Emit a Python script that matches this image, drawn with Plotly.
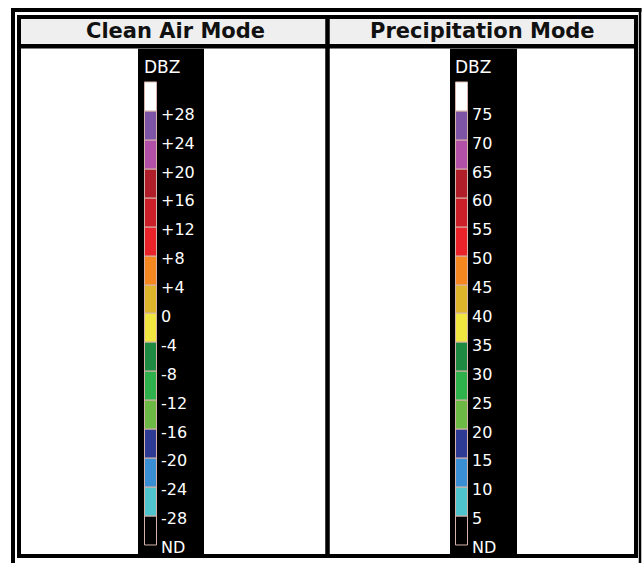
import plotly.graph_objects as go

W, H = 643, 565

# Legend entries, bottom (no data) to top
clean_air_labels = ["ND", "-28", "-24", "-20", "-16", "-12", "-8", "-4", "0",
                    "+4", "+8", "+12", "+16", "+20", "+24", "+28"]
precip_labels = ["ND", "5", "10", "15", "20", "25", "30", "35", "40",
                 "45", "50", "55", "60", "65", "70", "75"]
swatch_colors = ["#000000", "#50c4cc", "#3a8fd4", "#2d3b95", "#6cba45",
                 "#2fb24b", "#1f8a41", "#f1e540", "#ddb42a", "#f4871f",
                 "#ea2229", "#cb2029", "#b01e2a", "#b24fa7", "#7e54a6",
                 "#ffffff"]
swatch_heights = [1] * 16
swatch_bases = list(range(16))
panel_titles = ["Clean Air Mode", "Precipitation Mode"]
unit_label = "DBZ"


def px(x):
    return x / W


def py(y):
    return 1 - y / H


# pixel geometry of each panel's colour column
columns = [
    dict(strip=(138, 204), swatch=(145, 157), title_x=175, dbz_x=142),
    dict(strip=(450, 517), swatch=(456, 468), title_x=482, dbz_x=453),
]
top_px, bottom_px = 83, 547
unit_px = (bottom_px - top_px) / 16
pad = 0.25
shift = 2.5  # labels sit a touch below their boundary
bar_dom = [py(bottom_px + pad * unit_px), py(top_px - pad * unit_px)]
label_dom = [py(bottom_px + pad * unit_px + shift), py(top_px - pad * unit_px + shift)]

fig = go.Figure()
label_sets = [clean_air_labels, precip_labels]
label_font = dict(family="DejaVu Sans", size=16, color="white")

layout_axes = {}
for i, col in enumerate(columns):
    n = "" if i == 0 else str(i + 1)
    fig.add_trace(go.Bar(
        x=["c"] * 16,
        y=swatch_heights,
        base=swatch_bases,
        width=12 / 14,
        marker=dict(color=swatch_colors,
                    line=dict(color="#d6b3aa", width=1)),
        hoverinfo="skip",
        showlegend=False,
        xaxis="x" + n,
        yaxis="y" + n,
    ))
    s0, s1 = col["swatch"]
    layout_axes["xaxis" + n] = dict(
        domain=[px(s0 - 1), px(s1 + 1)], range=[-0.5, 0.5],
        visible=False, fixedrange=True, anchor="y" + n,
    )
    # swatch axis (no labels)
    layout_axes["yaxis" + n] = dict(
        domain=bar_dom, range=[-pad, 16 + pad], anchor="x" + n, side="right",
        showticklabels=False, ticks="", showgrid=False, zeroline=False,
        showline=False, fixedrange=True,
    )
    # label axis, same scale, nudged down slightly
    m = str(i + 3)
    layout_axes["yaxis" + m] = dict(
        domain=label_dom, range=[-pad, 16 + pad], anchor="x" + n, side="right",
        tickmode="array", tickvals=swatch_bases, ticktext=label_sets[i],
        ticks="", showgrid=False, zeroline=False, showline=False,
        tickfont=label_font, ticklabelstandoff=2, fixedrange=True,
    )
    fig.add_trace(go.Scatter(x=["c"], y=[None], xaxis="x" + n, yaxis="y" + m,
                             mode="markers", hoverinfo="skip", showlegend=False))

shapes = []
# black backing strips behind each colour column
for col in columns:
    a, b = col["strip"]
    shapes.append(dict(type="rect", xref="paper", yref="paper",
                       x0=px(a), x1=px(b), y0=py(556), y1=py(49),
                       fillcolor="black", line=dict(width=0), layer="below"))
# header band
shapes.append(dict(type="rect", xref="paper", yref="paper",
                   x0=px(21), x1=px(634), y0=py(44), y1=py(19),
                   fillcolor="#efefef", line=dict(width=0), layer="below"))


def hline(y, x0, x1, w):
    return dict(type="line", xref="paper", yref="paper", x0=px(x0), x1=px(x1),
                y0=py(y), y1=py(y), line=dict(color="black", width=w))


def vline(x, y0, y1, w):
    return dict(type="line", xref="paper", yref="paper", x0=px(x), x1=px(x),
                y0=py(y0), y1=py(y1), line=dict(color="black", width=w))


# outer frame
shapes += [hline(10, 11, 641.5, 4), vline(13, 8, 565, 4), vline(640, 8, 565, 2.5)]
# inner frame, header rule and panel divider
shapes += [hline(17, 17, 638, 4), hline(558, 17, 638, 4),
           vline(19, 15, 560, 4), vline(636, 15, 560, 4),
           hline(46.5, 19, 636, 4.5), vline(327.5, 17, 558, 4.5)]

annotations = []
for title, col in zip(panel_titles, columns):
    annotations.append(dict(
        text=title, xref="paper", yref="paper", x=px(col["title_x"]), y=py(31),
        xanchor="center", yanchor="middle", showarrow=False,
        font=dict(family="DejaVu Sans", size=21, color="#111111", weight="bold"),
    ))
    annotations.append(dict(
        text=unit_label, xref="paper", yref="paper", x=px(col["dbz_x"]), y=py(67),
        xanchor="left", yanchor="middle", showarrow=False,
        font=dict(family="DejaVu Sans", size=17, color="white"),
    ))

fig.update_layout(
    width=W, height=H, margin=dict(l=0, r=0, t=0, b=0),
    paper_bgcolor="white", plot_bgcolor="rgba(0,0,0,0)",
    bargap=0, shapes=shapes, annotations=annotations,
    **layout_axes,
)

fig.write_html("out.html")
